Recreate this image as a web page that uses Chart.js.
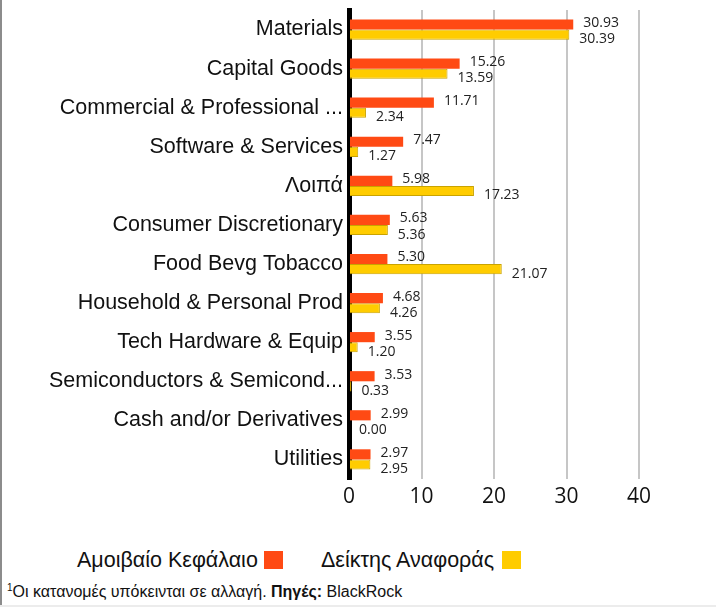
<!DOCTYPE html>
<html>
<head>
<meta charset="utf-8">
<script src="https://cdn.jsdelivr.net/npm/chart.js@4.4.1/dist/chart.umd.min.js"></script>
<style>
  body { margin: 0; background: #fff; }
  #wrap { position: relative; width: 716px; height: 608px; overflow: hidden; font-family: "Liberation Sans", Arial, sans-serif; }
  #leftLine { position: absolute; left: 0; top: 0; width: 2px; height: 605px; background: #8c8c8c; }
  #bottomLine { position: absolute; left: 0; top: 605px; width: 716px; height: 2px; background: #ececec; }
  canvas { position: absolute; left: 0; top: 0; }
  .leg { position: absolute; top: 548px; font-size: 21.5px; color: #111; white-space: nowrap; line-height: 24px; }
  .box { position: absolute; top: 551px; width: 19px; height: 18px; }
  #note { position: absolute; left: 7px; top: 582px; font-size: 16px; color: #111; white-space: nowrap; }
  #note sup { font-size: 10px; }
</style>
</head>
<body>
<div id="wrap">
  <canvas id="sectorChart" width="716" height="520"></canvas>
  <div id="leftLine"></div>
  <div id="bottomLine"></div>
  <div class="leg" id="leg1" style="left:77px">Αμοιβαίο Κεφάλαιο</div>
  <div class="box" id="box1" style="left:264px"></div>
  <div class="leg" id="leg2" style="left:321px">Δείκτης Αναφοράς</div>
  <div class="box" id="box2" style="left:502px"></div>
  <div id="note"><sup>1</sup>Οι κατανομές υπόκεινται σε αλλαγή. <b>Πηγές:</b> BlackRock</div>
</div>
<script>
const sectors = [
  'Materials',
  'Capital Goods',
  'Commercial & Professional ...',
  'Software & Services',
  'Λοιπά',
  'Consumer Discretionary',
  'Food Bevg Tobacco',
  'Household & Personal Prod',
  'Tech Hardware & Equip',
  'Semiconductors & Semicond...',
  'Cash and/or Derivatives',
  'Utilities'
];
const fundValues = [30.93, 15.26, 11.71, 7.47, 5.98, 5.63, 5.30, 4.68, 3.55, 3.53, 2.99, 2.97];
const indexValues = [30.39, 13.59, 2.34, 1.27, 17.23, 5.36, 21.07, 4.26, 1.20, 0.33, 0.00, 2.95];
const xTicks = [0, 10, 20, 30, 40];

const fundColor = '#FF4A14';
const indexColor = '#FFCC00';

document.getElementById('box1').style.background = fundColor;
document.getElementById('box2').style.background = indexColor;

// value labels to the right of each bar
const valueLabels = {
  id: 'valueLabels',
  afterDatasetsDraw(chart) {
    const c = chart.ctx;
    c.save();
    c.font = '14px "Open Sans", sans-serif';
    c.fillStyle = '#222';
    c.textAlign = 'left';
    c.textBaseline = 'middle';
    chart.data.datasets.forEach((ds, i) => {
      const meta = chart.getDatasetMeta(i);
      const dy = i === 0 ? -1.5 : 4.5;
      meta.data.forEach((bar, j) => {
        c.fillText(ds.data[j].toFixed(2), bar.x + 10, bar.y + dy);
      });
    });
    c.restore();
  }
};

const ctx = document.getElementById('sectorChart').getContext('2d');
const sectorChart = new Chart(ctx, {
  type: 'bar',
  data: {
    labels: sectors,
    datasets: [{
      label: 'Αμοιβαίο Κεφάλαιο',
      data: fundValues,
      backgroundColor: fundColor,
      borderWidth: 0,
      categoryPercentage: 0.52,
      barPercentage: 1
    }, {
      label: 'Δείκτης Αναφοράς',
      data: indexValues,
      backgroundColor: indexColor,
      borderColor: '#C9A300',
      borderWidth: 1,
      categoryPercentage: 0.52,
      barPercentage: 1
    }]
  },
  options: {
    indexAxis: 'y',
    responsive: false,
    animation: false,
    layout: { padding: { top: 10, right: 19, left: 0, bottom: 0 } },
    plugins: {
      legend: { display: false },
      tooltip: { enabled: false }
    },
    scales: {
      x: {
        min: 0,
        max: 48,
        afterBuildTicks: axis => {
          axis.ticks = xTicks.map(v => ({ value: v }));
        },
        afterFit: scale => { scale.height = 41; },
        grid: {
          color: ctx => ctx.tick && ctx.tick.value === 0 ? 'rgba(0,0,0,0)' : '#c6c6c6',
          lineWidth: 2,
          drawTicks: false
        },
        border: { display: false },
        ticks: {
          padding: 5,
          color: '#111',
          font: { family: '"Open Sans", sans-serif', size: 21 }
        }
      },
      y: {
        afterFit: scale => {
          scale.width = 349;
          scale.paddingTop = 0;
          scale.paddingBottom = 0;
        },
        grid: { display: false, drawTicks: false },
        border: { display: true, color: '#000', width: 5 },
        ticks: {
          padding: 6,
          color: '#111',
          autoSkip: false,
          font: { family: '"Liberation Sans", Arial, sans-serif', size: 21.5 }
        }
      }
    }
  },
  plugins: [valueLabels]
});
</script>
</body>
</html>
